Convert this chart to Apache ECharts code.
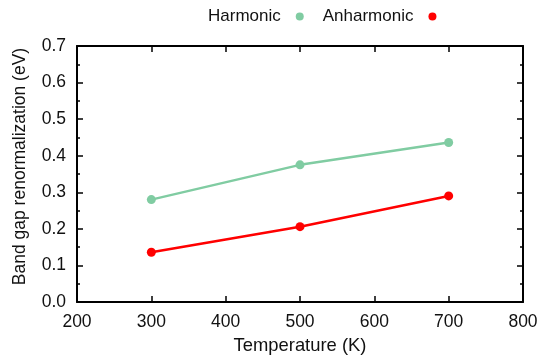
<!DOCTYPE html>
<html>
<head>
<meta charset="utf-8">
<script src="https://cdn.jsdelivr.net/npm/echarts@6/dist/echarts.min.js"></script>
<style>html,body{margin:0;padding:0;background:#fff}#c{width:544px;height:361px}</style>
</head>
<body>
<div id="c"></div>
<script>
const temperatures = [300, 500, 700];
const harmonic = [0.280, 0.375, 0.436];
const anharmonic = [0.136, 0.206, 0.290];
const seriesNames = ['Harmonic', 'Anharmonic'];
const xTitle = 'Temperature (K)';
const yTitle = 'Band gap renormalization (eV)';

const font = 'Liberation Sans, Arial, Helvetica, sans-serif';
const chart = echarts.init(document.getElementById('c'), null, {renderer: 'canvas'});
const axisLine = {show: true, onZero: false, lineStyle: {color: '#000', width: 2}};
const tick = {show: true, inside: true, length: 6, lineStyle: {color: '#000', width: 1.5}};
const minor = {show: true, splitNumber: 2, length: 3, lineStyle: {color: '#000', width: 1.5}};
const xBase = {type: 'value', min: 200, max: 800, interval: 100, axisLine, axisTick: tick, splitLine: {show: false}};
const yBase = {type: 'value', min: 0, max: 0.7, interval: 0.1, axisLine, axisTick: tick, minorTick: minor, splitLine: {show: false}, minorSplitLine: {show: false}};

chart.setOption({
  animation: false,
  textStyle: {fontFamily: font},
  legend: {
    data: seriesNames.map(n => ({name: n, icon: 'circle'})),
    left: 203, top: 3, align: 'right',
    itemWidth: 28, itemHeight: 8, itemGap: 19,
    textStyle: {fontSize: 17, color: '#111', fontFamily: font}
  },
  grid: {left: 77, right: 21, top: 46, bottom: 59, containLabel: false},
  xAxis: [
    Object.assign({}, xBase, {position: 'bottom', name: xTitle, nameLocation: 'middle', nameGap: 35,
      nameTextStyle: {fontSize: 18.4, color: '#111', fontFamily: font},
      axisLabel: {fontSize: 17.5, color: '#111', margin: 11, fontFamily: font}}),
    Object.assign({}, xBase, {position: 'top', axisLabel: {show: false}})
  ],
  yAxis: [
    Object.assign({}, yBase, {position: 'left', name: yTitle, nameLocation: 'middle', nameGap: 48,
      nameTextStyle: {fontSize: 17.5, color: '#111', fontFamily: font, padding: [0, 0, 0, 15]},
      axisLabel: {fontSize: 17.5, color: '#111', margin: 11, fontFamily: font, formatter: v => v.toFixed(1)}}),
    Object.assign({}, yBase, {position: 'right', axisLabel: {show: false}})
  ],
  series: [
    {name: seriesNames[0], type: 'line', data: temperatures.map((t, i) => [t, harmonic[i]]),
     symbol: 'circle', symbolSize: 9, itemStyle: {color: '#80cca2'}, lineStyle: {color: '#80cca2', width: 2.5}},
    {name: seriesNames[1], type: 'line', data: temperatures.map((t, i) => [t, anharmonic[i]]),
     symbol: 'circle', symbolSize: 9, itemStyle: {color: '#ff0000'}, lineStyle: {color: '#ff0000', width: 2.5}}
  ]
});
</script>
</body>
</html>
